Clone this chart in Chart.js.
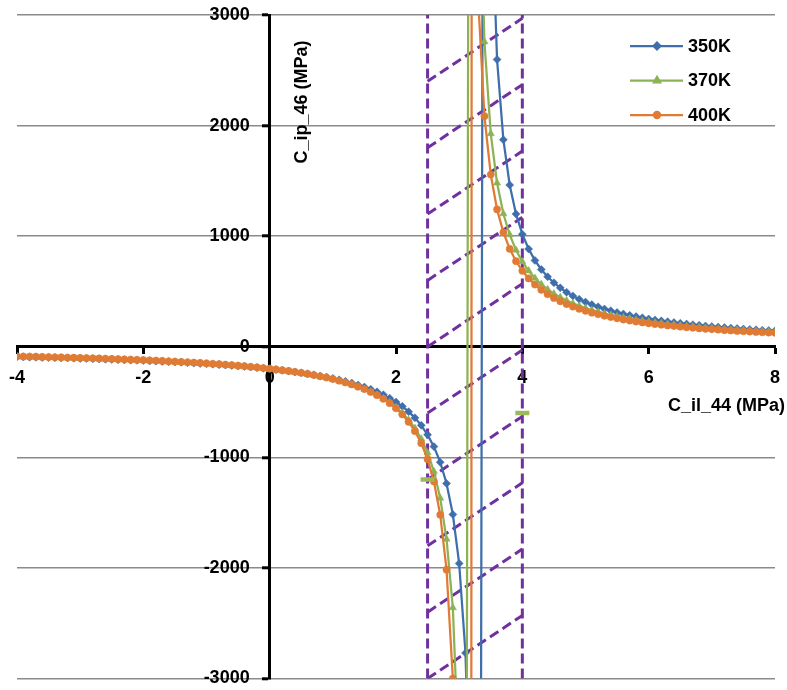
<!DOCTYPE html>
<html><head><meta charset="utf-8">
<script src="https://cdn.jsdelivr.net/npm/chart.js@4.4.1/dist/chart.umd.min.js"></script>
<style>html,body{margin:0;padding:0;background:#fff;overflow:hidden}#wrap{width:787px;height:690px}</style>
</head><body><div id="wrap"><canvas id="c" width="787" height="690"></canvas></div>
<script>
const xValues = [-4,-3.9,-3.8,-3.7,-3.6,-3.5,-3.4,-3.3,-3.2,-3.1,-3,-2.9,-2.8,-2.7,-2.6,-2.5,-2.4,-2.3,-2.2,-2.1,-2,-1.9,-1.8,-1.7,-1.6,-1.5,-1.4,-1.3,-1.2,-1.1,-1,-0.9,-0.8,-0.7,-0.6,-0.5,-0.4,-0.3,-0.2,-0.1,0,0.1,0.2,0.3,0.4,0.5,0.6,0.7,0.8,0.9,1,1.1,1.2,1.3,1.4,1.5,1.6,1.7,1.8,1.9,2,2.1,2.2,2.3,2.4,2.5,2.6,2.7,2.8,2.9,3,3.1,3.2,3.3,3.4,3.5,3.6,3.7,3.8,3.9,4,4.1,4.2,4.3,4.4,4.5,4.6,4.7,4.8,4.9,5,5.1,5.2,5.3,5.4,5.5,5.6,5.7,5.8,5.9,6,6.1,6.2,6.3,6.4,6.5,6.6,6.7,6.8,6.9,7,7.1,7.2,7.3,7.4,7.5,7.6,7.7,7.8,7.9,8];

const series350K = [
-91,-93,-94,-95,-97,-98,-99,-101,-102,-104,
-106,-107,-109,-111,-113,-115,-117,-119,-121,-123,
-125,-128,-130,-133,-136,-138,-141,-144,-148,-151,
-154,-158,-162,-166,-170,-174,-179,-184,-189,-195,
-200,-207,-213,-220,-228,-236,-244,-254,-264,-274,
-286,-299,-313,-328,-345,-364,-385,-408,-434,-465,
-499,-539,-587,-643,-711,-796,-903,-1044,-1236,-1516,
-1959,-2769,-4718,-15952,11552,4241,2597,1872,1463,1201,
1018,884,781,699,633,579,533,493,460,430,
404,381,361,342,326,310,297,284,273,262,
252,243,234,227,219,212,206,200,194,188,
183,178,174,169,165,161,157,154,150,147,
144];

const series370K = [
-89,-91,-92,-93,-95,-96,-97,-99,-101,-102,
-104,-105,-107,-109,-111,-113,-115,-117,-119,-121,
-124,-126,-129,-131,-134,-137,-140,-143,-147,-150,
-154,-157,-161,-165,-170,-174,-179,-185,-190,-196,
-202,-209,-216,-223,-231,-240,-249,-259,-270,-282,
-295,-309,-325,-343,-362,-384,-408,-436,-468,-505,
-548,-599,-661,-737,-833,-958,-1127,-1368,-1739,-2360,
-3810,-9412,20000,4848,2759,1928,1481,1203,1013,874,
769,687,620,565,519,480,447,418,392,370,
349,331,315,300,287,274,263,253,243,234,
226,218,211,204,198,192,186,181,176,171,
167,163,159,155,151,148,144,141,138,135,
132];

const series400K = [
-87,-88,-89,-90,-92,-93,-95,-96,-98,-99,
-101,-102,-104,-106,-108,-110,-112,-114,-116,-118,
-120,-123,-125,-128,-131,-134,-137,-140,-143,-146,
-150,-154,-157,-162,-166,-171,-175,-181,-186,-192,
-198,-205,-212,-219,-227,-236,-246,-256,-267,-279,
-292,-307,-323,-341,-361,-383,-409,-438,-471,-510,
-557,-612,-680,-764,-872,-1017,-1218,-1519,-2016,-3000,
-5857,-123000,6474,3154,2085,1557,1242,1034,885,774,
687,618,562,515,475,441,411,386,363,343,
325,308,294,280,268,257,246,237,228,220,
212,205,199,192,187,181,176,171,166,162,
158,154,150,147,143,140,137,134,131,128,
126];

const seriesLabels = ['350K', '370K', '400K'];
const xTickValues = [-4, -2, 0, 2, 4, 6, 8];
const yTickValues = [-3000, -2000, -1000, 0, 1000, 2000, 3000];
const xTitle = 'C_il_44 (MPa)';
const yTitle = 'C_ip_46 (MPa)';

// hatched band
const bandX = [2.5, 4];
const bandY = [-3000, 3000];
const hatchLeftY = [-3000, -2400, -1800, -1200, -600, 0, 600, 1200, 1800, 2400];
const hatchRightY = [-2430, -1830, -1230, -630, -30, 570, 1170, 1770, 2370, 2970];

// green dash markers
const markX = [2.5, 4];
const markY = [-1200, -600];

const FONT = '"Liberation Sans", Arial, sans-serif';
const colors = ['#3E6EAB', '#8DB255', '#E07B35'];
const styles = ['rectRot', 'triangle', 'circle'];
const radii = [4, 4.2, 3.6];
const purple = '#7030A0';

const seriesData = [series350K, series370K, series400K];
const datasets = [];
seriesData.forEach((vals, i) => {
  datasets.push({
    label: seriesLabels[i],
    data: xValues.map((x, j) => ({x: x, y: vals[j]})),
    showLine: true,
    borderColor: colors[i],
    backgroundColor: colors[i],
    borderWidth: 2.25,
    pointStyle: styles[i],
    pointRadius: radii[i],
    pointBorderWidth: 0.5,
    pointBackgroundColor: colors[i],
    pointBorderColor: colors[i],
    order: 3 - i,
    isSeries: true
  });
});
datasets.push({
  label: 'marks',
  data: markX.map((x, j) => ({x: x, y: markY[j]})),
  showLine: false,
  pointStyle: 'line',
  pointRadius: 7,
  pointBorderWidth: 4.5,
  borderColor: '#9BBB59',
  backgroundColor: '#9BBB59',
  order: -1
});
bandX.forEach(bx => {
  datasets.push({
    label: 'band',
    data: bandY.map(by => ({x: bx, y: by})),
    showLine: true, pointRadius: 0, borderColor: purple, borderWidth: 3,
    borderDash: [10, 5], order: 10
  });
});
hatchLeftY.forEach((ly, k) => {
  datasets.push({
    label: 'hatch',
    data: [{x: bandX[0], y: ly}, {x: bandX[1], y: hatchRightY[k]}],
    showLine: true, pointRadius: 0, borderColor: purple, borderWidth: 3,
    borderDash: [10, 5], order: 10
  });
});

const overlay = {
  id: 'overlay',
  beforeDraw(chart) {
    // push the y tick labels away from the axis line (object-positioned axes ignore padding)
    const ys = chart.scales.y;
    const items = ys.getLabelItems(chart.chartArea);
    items.forEach(it => {
      const t = it.options.translation;
      it.options.translation = [t[0] - 20, t[1]];
    });
  },
  afterDraw(chart) {
    const ctx = chart.ctx, a = chart.chartArea, xs = chart.scales.x, ys = chart.scales.y;
    ctx.save();
    ctx.font = 'bold 18px ' + FONT;
    ctx.fillStyle = '#000';
    ctx.textAlign = 'right';
    ctx.textBaseline = 'middle';
    ctx.fillText(xTitle, a.right + 10, ys.getPixelForValue(0) + 59);
    ctx.save();
    ctx.translate(xs.getPixelForValue(0) + 32, a.top + 87);
    ctx.rotate(-Math.PI / 2);
    ctx.textAlign = 'center';
    ctx.fillText(yTitle, 0, 0);
    ctx.restore();
    // legend
    chart.data.datasets.forEach((ds, i) => {
      if (!ds.isSeries) return;
      const ry = a.top + 31 + i * 34.5;
      ctx.strokeStyle = ds.borderColor;
      ctx.lineWidth = 2.25;
      ctx.beginPath();
      ctx.moveTo(a.right - 145, ry);
      ctx.lineTo(a.right - 92, ry);
      ctx.stroke();
      ctx.fillStyle = ds.borderColor;
      Chart.helpers.drawPoint(ctx, {pointStyle: ds.pointStyle, radius: ds.pointRadius * 0.85, rotation: 0, borderWidth: 0.5}, a.right - 118, ry);
      ctx.fillStyle = '#000';
      ctx.textAlign = 'left';
      ctx.fillText(ds.label, a.right - 87, ry + 1);
    });
    ctx.restore();
  }
};

const tickFont = {family: FONT, size: 18, weight: 'bold'};
new Chart(document.getElementById('c'), {
  type: 'scatter',
  data: {datasets: datasets},
  options: {
    responsive: false,
    animation: false,
    devicePixelRatio: 1,
    layout: {padding: {left: 17, right: 12, top: 15, bottom: 6}},
    plugins: {legend: {display: false}, tooltip: {enabled: false}},
    elements: {line: {tension: 0}},
    scales: {
      x: {
        type: 'linear', position: {y: 0}, min: -4, max: 8,
        afterBuildTicks: s => { s.ticks = xTickValues.map(v => ({value: v})); },
        afterFit: s => { s.paddingLeft = 0; s.paddingRight = 0; },
        grid: {drawOnChartArea: false, drawTicks: true, tickLength: 6, tickColor: '#000', tickWidth: 3},
        border: {display: true, color: '#000', width: 3},
        ticks: {font: tickFont, color: '#000', padding: 14, maxRotation: 0, autoSkip: false, callback: v => String(v)}
      },
      y: {
        type: 'linear', position: {x: 0}, min: -3000, max: 3000,
        afterBuildTicks: s => { s.ticks = yTickValues.map(v => ({value: v})); },
        afterFit: s => { s.paddingTop = 0; s.paddingBottom = 0; },
        grid: {color: '#8A8A8A', lineWidth: 1.6, drawTicks: true, tickLength: 6, tickColor: '#000', tickWidth: 3},
        border: {display: true, color: '#000', width: 3},
        ticks: {font: tickFont, color: '#000', padding: 13, autoSkip: false, callback: v => String(v)}
      }
    }
  },
  plugins: [overlay]
});
</script>
</body></html>
